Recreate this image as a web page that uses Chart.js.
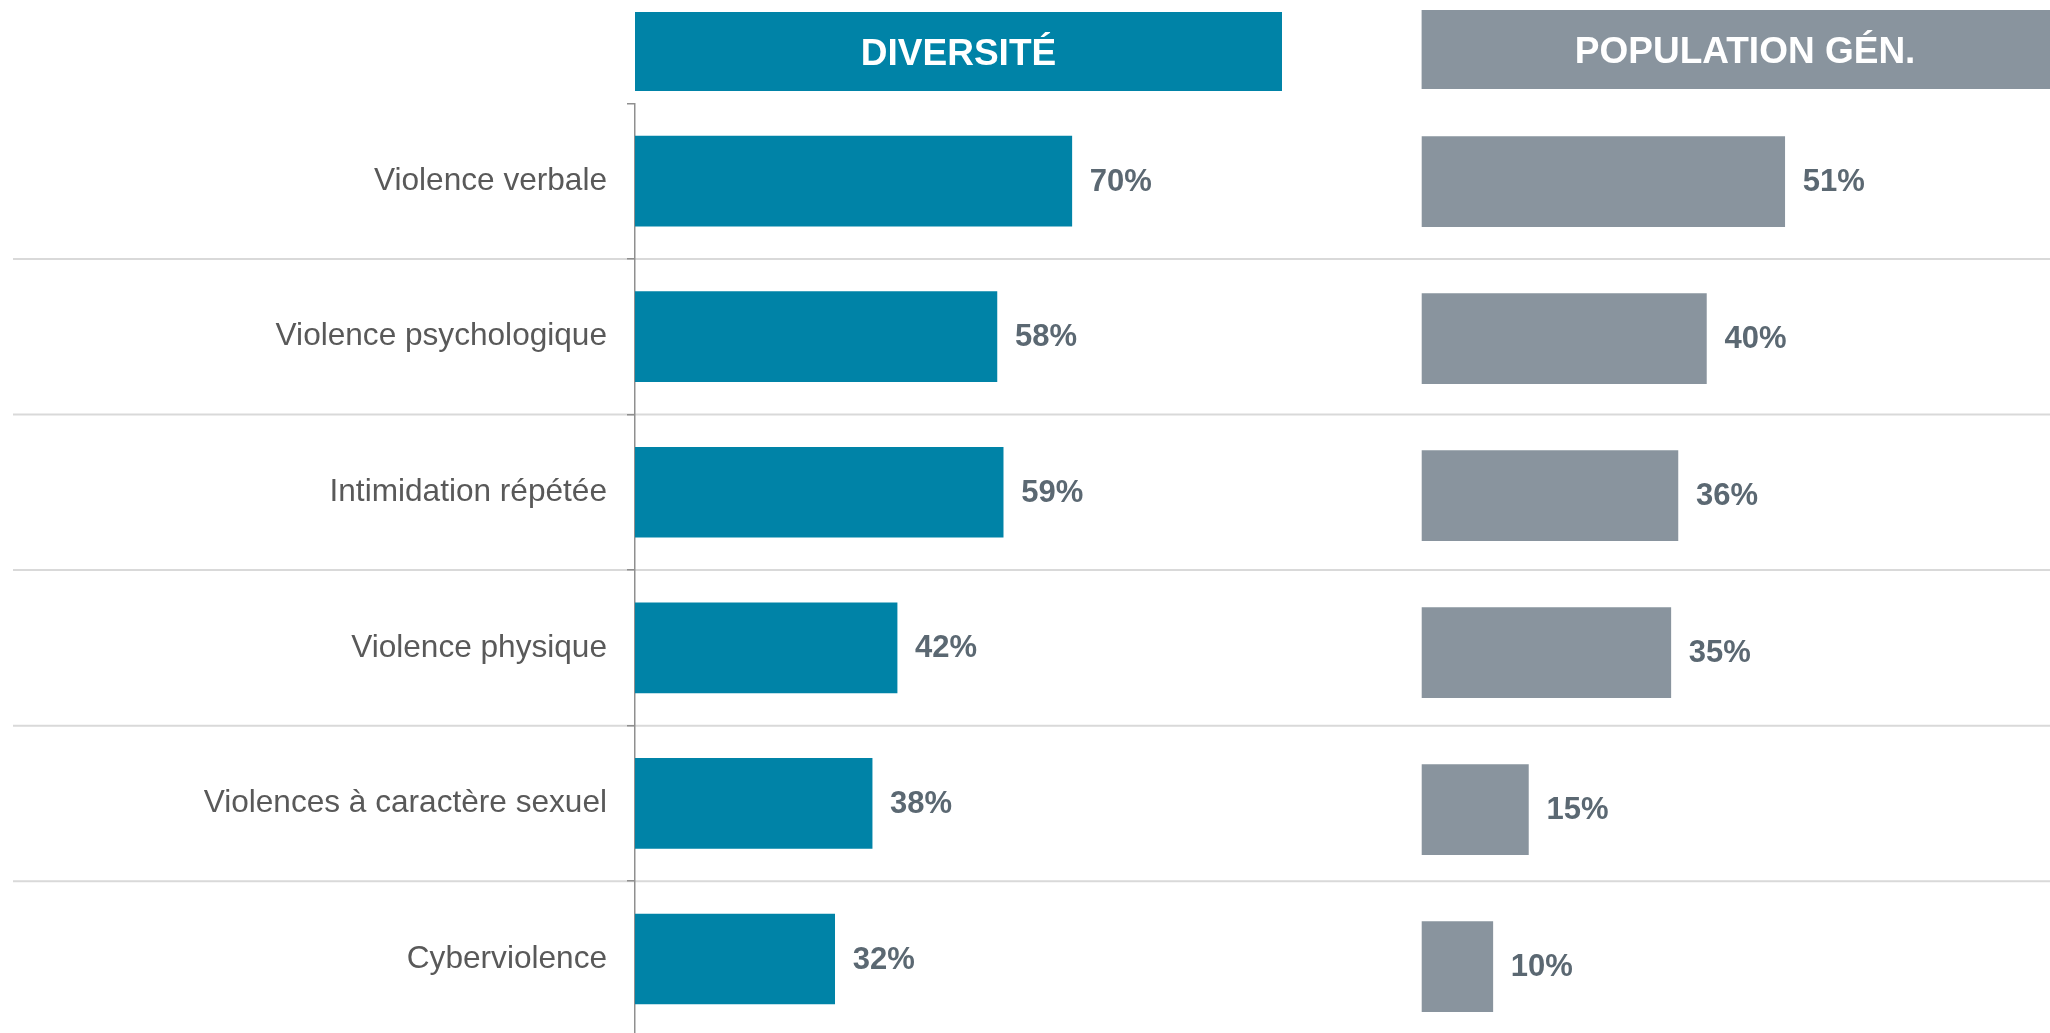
<!DOCTYPE html>
<html lang="fr">
<head>
<meta charset="utf-8">
<title>Violences subies</title>
<script src="https://cdn.jsdelivr.net/npm/chart.js@4.4.1/dist/chart.umd.min.js"></script>
<style>
  html, body { margin: 0; padding: 0; overflow: hidden; background: #ffffff; width: 2050px; height: 1033px; }
  #left { position: absolute; left: 0; top: 0; }
  #right { position: absolute; left: 1400px; top: 0; }
</style>
</head>
<body>
<canvas id="left" width="2050" height="1040"></canvas>
<canvas id="right" width="750" height="1046"></canvas>
<script>
// données du graphique
const categories = [
  "Violence verbale",
  "Violence psychologique",
  "Intimidation répétée",
  "Violence physique",
  "Violences à caractère sexuel",
  "Cyberviolence",
];
const diversiteValues = [70, 58, 59, 42, 38, 32];
const populationValues = [51, 40, 36, 35, 15, 10];
const panelTitles = ["DIVERSITÉ", "POPULATION GÉN."];

const FONT = "'Liberation Sans', Arial, Helvetica, sans-serif";

// bandeau de titre au-dessus de chaque panneau
const headerPlugin = {
  id: "header",
  beforeDraw(chart, args, opts) {
    let ctx = chart.ctx;
    let left = chart.chartArea.left;
    ctx.save();
    ctx.fillStyle = opts.color;
    ctx.fillRect(left, opts.top, opts.width, opts.height);
    ctx.fillStyle = "#ffffff";
    ctx.font = "bold 37px " + FONT;
    ctx.textAlign = "center";
    ctx.textBaseline = "alphabetic";
    ctx.fillText(opts.text, left + opts.width / 2, opts.top + 53);
    ctx.restore();
  },
};

// lignes de séparation entre les catégories (sur toute la largeur)
const dividerPlugin = {
  id: "dividers",
  beforeDraw(chart) {
    let y = chart.scales.y;
    let ctx = chart.ctx;
    ctx.save();
    ctx.strokeStyle = "#d9d9d9";
    ctx.lineWidth = 2;
    for (let i = 0; i < categories.length - 1; i++) {
      let py = (y.getPixelForValue(i) + y.getPixelForValue(i + 1)) / 2;
      ctx.beginPath();
      ctx.moveTo(13, py);
      ctx.lineTo(chart.width, py);
      ctx.stroke();
    }
    ctx.restore();
  },
};

// étiquettes de valeur à droite des barres
const valueLabelPlugin = {
  id: "valueLabels",
  afterDatasetsDraw(chart) {
    let ctx = chart.ctx;
    let meta = chart.getDatasetMeta(0);
    let data = chart.data.datasets[0].data;
    ctx.save();
    ctx.fillStyle = "#5b6872";
    ctx.font = "bold 31px " + FONT;
    ctx.textAlign = "left";
    ctx.textBaseline = "middle";
    meta.data.forEach((bar, i) => {
      ctx.fillText(data[i] + "%", bar.x + 18, bar.y + 1);
    });
    ctx.restore();
  },
};

// panneau gauche : diversité (avec les libellés)
new Chart(document.getElementById("left"), {
  type: "bar",
  data: {
    labels: categories,
    datasets: [
      {
        data: diversiteValues,
        backgroundColor: "#0083a7",
        barThickness: 90,
      },
    ],
  },
  options: {
    indexAxis: "y",
    responsive: false,
    animation: false,
    layout: { padding: { top: 103.3, bottom: 3.2, left: 0, right: 791 } },
    plugins: {
      legend: { display: false },
      tooltip: { enabled: false },
      header: { text: panelTitles[0], color: "#0083a7", top: 12, height: 79, width: 647 },
    },
    scales: {
      x: { display: false, min: 0, max: 100 },
      y: {
        afterFit(scale) {
          scale.width = 635;
          scale.paddingTop = 0;
          scale.paddingBottom = 0;
        },
        grid: {
          offset: true,
          drawOnChartArea: false,
          tickLength: 8,
          color: "#8f8f8f",
          lineWidth: 1.5,
        },
        border: { color: "#8f8f8f", width: 1.5 },
        ticks: {
          padding: 20,
          color: "#595959",
          font: { family: FONT, size: 31.6 },
        },
      },
    },
  },
  plugins: [dividerPlugin, headerPlugin, valueLabelPlugin],
});

// panneau droit : population générale
new Chart(document.getElementById("right"), {
  type: "bar",
  data: {
    labels: categories,
    datasets: [
      {
        data: populationValues,
        backgroundColor: "#89949e",
        barThickness: 90,
      },
    ],
  },
  options: {
    indexAxis: "y",
    responsive: false,
    animation: false,
    layout: { padding: { top: 103.2, bottom: 0.8, left: 21.6, right: 16.4 } },
    plugins: {
      legend: { display: false },
      tooltip: { enabled: false },
      header: { text: panelTitles[1], color: "#89949e", top: 10, height: 79, width: 647 },
    },
    scales: {
      x: { display: false, min: 0, max: 100 },
      y: { display: false },
    },
  },
  plugins: [headerPlugin, valueLabelPlugin],
});
</script>
</body>
</html>
